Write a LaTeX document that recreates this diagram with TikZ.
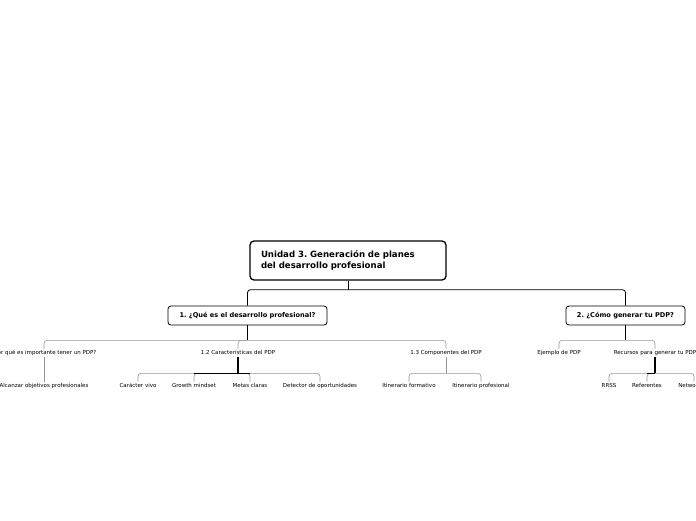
\documentclass[tikz,border=0pt]{standalone}
\usepackage{fontspec}
\setmainfont{DejaVu Sans}
\frenchspacing
\usetikzlibrary{positioning, calc}
\definecolor{branch}{RGB}{150, 150, 150}
\tikzset{
    rootbox/.style={draw, line width=1.3pt, rounded corners=4pt, minimum width=196pt, minimum height=39pt, text width=174pt, align=left, font=\fontsize{8.6}{11}\selectfont\bfseries},
    topicbox/.style={draw, line width=0.8pt, rounded corners=3pt, minimum height=19pt, inner xsep=0pt, font=\fontsize{6.6}{7}\selectfont\bfseries},
    leaf/.style={inner sep=1.5pt, text height=4.2pt, text depth=1.2pt, font=\fontsize{5.5}{6}\selectfont},
    trunk/.style={draw, line width=0.8pt, rounded corners=3pt},
    twig/.style={draw, branch, line width=0.6pt, rounded corners=3pt},
    stem/.style={draw, line width=1.2pt}
}
\begin{document}
\begin{tikzpicture}[x=1pt, y=-1pt]
    \useasboundingbox (0,0) rectangle (696,520);

    % Root
    \node[rootbox] (root) at (348,260.5) {Unidad 3. Generación de planes\\del desarrollo profesional};

    % Topics
    \node[topicbox, minimum width=159pt] (q1) at (247.5,315.5) {1. ¿Qué es el desarrollo profesional?};
    \node[topicbox, minimum width=119pt] (q2) at (625.5,315.5) {2. ¿Cómo generar tu PDP?};

    % Subtopics
    \node[leaf] (why) at (44,353) {¿Por qué es importante tener un PDP?};
    \node[leaf] (traits) at (238,353) {1.2 Características del PDP};
    \node[leaf] (parts) at (446,353) {1.3 Componentes del PDP};
    \node[leaf] (example) at (559,353) {Ejemplo de PDP};
    \node[leaf] (resources) at (655,353) {Recursos para generar tu PDP};

    % Leaves
    \node[leaf] (reach) at (44,386) {Alcanzar objetivos profesionales};
    \node[leaf] (alive) at (138,386) {Carácter vivo};
    \node[leaf] (growth) at (194,386) {Growth mindset};
    \node[leaf] (goals) at (250,386) {Metas claras};
    \node[leaf] (detector) at (320,386) {Detector de oportunidades};
    \node[leaf] (itform) at (409,386) {Itinerario formativo};
    \node[leaf] (itprof) at (481,386) {Itinerario profesional};
    \node[leaf] (rrss) at (609,386) {RRSS};
    \node[leaf] (refs) at (647,386) {Referentes};
    \node[leaf] (networking) at (694,386) {Networking};

    % Junctions
    \coordinate (j0) at ($(root.south)+(0,9)$);
    \coordinate (j1) at ($(q1.south)+(0,15)$);
    \coordinate (j2) at ($(q2.south)+(0,15)$);
    \coordinate (j3) at ($(traits.south)+(0,16)$);
    \coordinate (j4) at ($(parts.south)+(0,16)$);
    \coordinate (j5) at ($(resources.south)+(0,16)$);

    % Root to topics
    \draw (root.south) -- (j0);
    \draw[trunk] (j0) -| (q1.north);
    \draw[trunk] (j0) -| (q2.north);

    % Topics to subtopics
    \draw (q1.south) -- (j1);
    \draw (q2.south) -- (j2);
    \foreach \n in {why, traits, parts} \draw[twig] (j1) -| (\n.north);
    \foreach \n in {example, resources} \draw[twig] (j2) -| (\n.north);

    % Subtopics to leaves
    \draw[twig] (why.south) -- (reach.north);
    \foreach \n in {alive, growth, goals, detector} \draw[twig] (j3) -| (\n.north);
    \draw[line width=0.9pt] (growth.north |- j3) -- (goals.north |- j3);
    \draw[stem] (traits.south) -- (j3);
    \foreach \n in {itform, itprof} \draw[twig] (j4) -| (\n.north);
    \draw[twig] (parts.south) -- (j4);
    \foreach \n in {rrss, refs, networking} \draw[twig] (j5) -| (\n.north);
    \draw[line width=0.9pt] (refs.north |- j5) -- (j5);
    \draw[stem] (resources.south) -- (j5);
\end{tikzpicture}
\end{document}
